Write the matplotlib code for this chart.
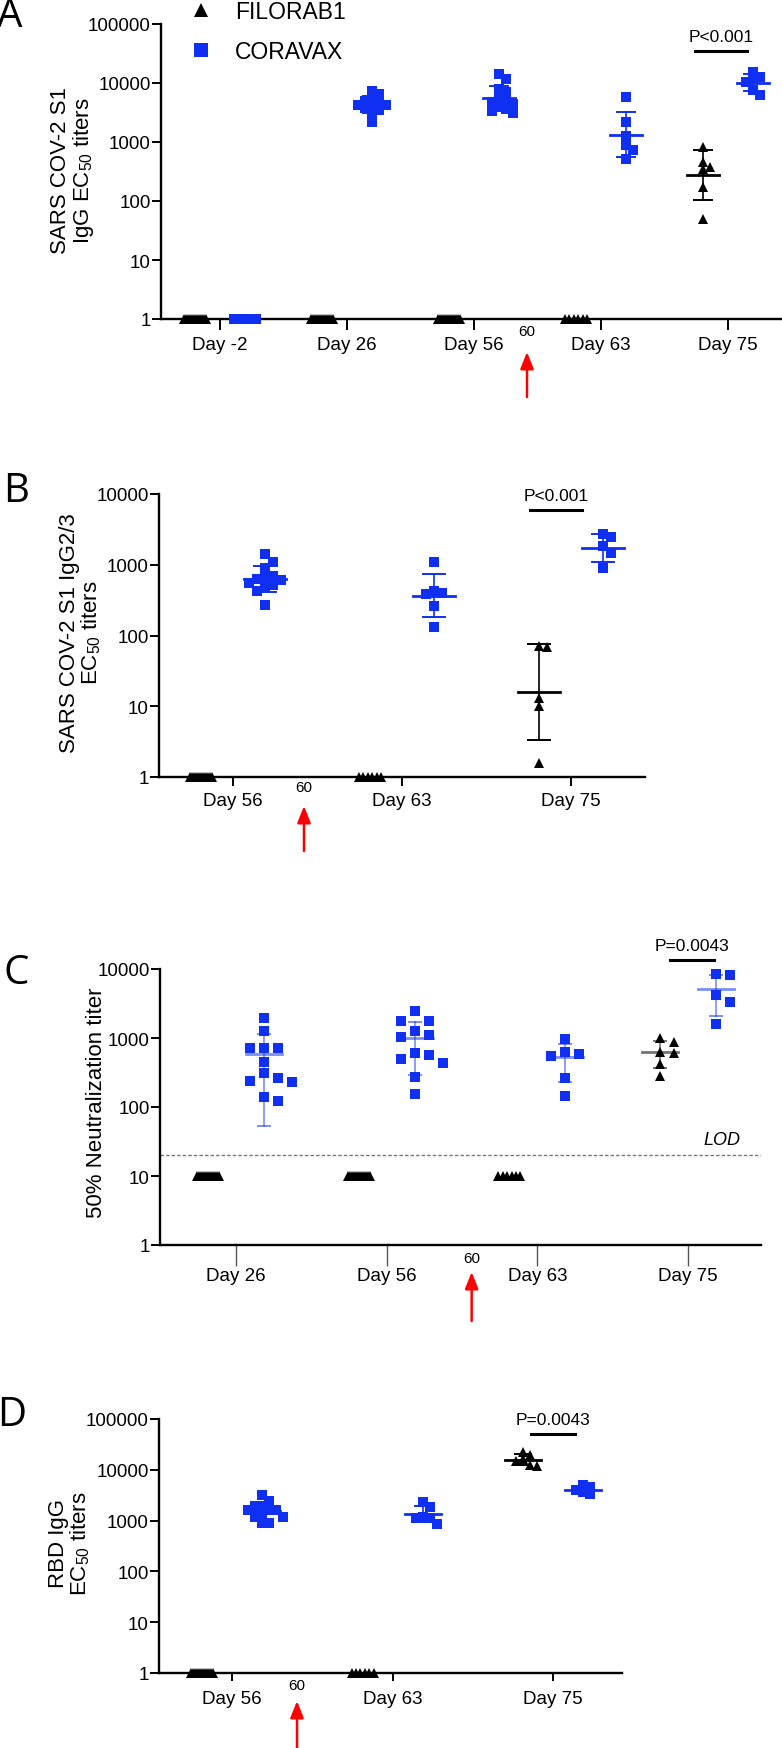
import numpy as np
import matplotlib
matplotlib.use("Agg")
import matplotlib.pyplot as plt
from matplotlib.ticker import NullLocator

# ---------------- data ----------------
a_days = ["Day -2", "Day 26", "Day 56", "Day 63", "Day 75"]
a_filo = [[1, 1, 1, 1, 1, 1, 1, 1, 1, 1, 1, 1],
          [1, 1, 1, 1, 1, 1, 1, 1, 1, 1, 1, 1],
          [1, 1, 1, 1, 1, 1, 1, 1, 1, 1, 1, 1],
          [1, 1, 1, 1, 1, 1],
          [830, 460, 370, 350, 170, 50]]
a_cora = [[1, 1, 1, 1, 1, 1, 1, 1, 1, 1, 1, 1],
          [7400, 6500, 5500, 5000, 4600, 4300, 4200, 4000, 3800, 3500, 3000, 2200],
          [14000, 11500, 8000, 7000, 5500, 5000, 4700, 4400, 4000, 3600, 3300, 3100],
          [5800, 2200, 1280, 900, 730, 510],
          [15500, 12500, 11500, 10500, 7500, 6300]]

b_days = ["Day 56", "Day 63", "Day 75"]
b_filo = [[1, 1, 1, 1, 1, 1, 1, 1, 1, 1, 1, 1],
          [1, 1, 1, 1, 1, 1],
          [72, 68, 13, 10, 1.6]]
b_cora = [[1400, 1100, 900, 700, 650, 620, 600, 560, 520, 480, 420, 270],
          [1100, 420, 400, 380, 260, 130],
          [2700, 2450, 1850, 1450, 890]]

c_days = ["Day 26", "Day 56", "Day 63", "Day 75"]
c_filo = [[10, 10, 10, 10, 10, 10, 10, 10, 10, 10, 10, 10],
          [10, 10, 10, 10, 10, 10, 10, 10, 10, 10, 10, 10],
          [10, 10, 10, 10, 10, 10],
          [1000, 870, 630, 600, 420, 280]]
c_cora = [[1930, 1280, 720, 716, 710, 454, 311, 263, 235, 228, 138, 121],
          [2440, 1740, 1740, 1280, 1100, 1050, 600, 560, 500, 430, 275, 155],
          [970, 634, 590, 543, 260, 145],
          [8500, 8200, 4200, 3300, 1600]]
c_lod = 20

d_days = ["Day 56", "Day 63", "Day 75"]
d_filo = [[1, 1, 1, 1, 1, 1, 1, 1, 1, 1, 1, 1],
          [1, 1, 1, 1, 1, 1],
          [22900, 19500, 16200, 15100, 12500, 12000]]
d_cora = [[3200, 2460, 1900, 1900, 1620, 1620, 1600, 1350, 1180, 1180, 890, 890],
          [2290, 1870, 1180, 1150, 1120, 860],
          [5000, 4570, 4060, 3630, 3300]]

# ---------------- style ----------------
W, H = 782, 1749
BLUE = "#0f2ff2"
SANS = ["Liberation Sans", "DejaVu Sans"]
plt.rcParams["font.family"] = SANS
plt.rcParams["mathtext.fontset"] = "custom"
plt.rcParams["mathtext.rm"] = "Liberation Sans"
plt.rcParams["mathtext.it"] = "Liberation Sans:italic"

fig = plt.figure(figsize=(W / 100, H / 100), dpi=100)


def px_axes(l, t, r, b):
    return fig.add_axes([l / W, 1 - b / H, (r - l) / W, (b - t) / H])


def ppu(ax):
    return ax.transData.transform((1, 1))[0] - ax.transData.transform((0, 1))[0]


def summary(vals, kind):
    v = np.asarray(vals, float)
    if kind == "geo":
        lv = np.log10(v)
        m, s = lv.mean(), lv.std(ddof=1)
        return 10 ** m, 10 ** (m - s), 10 ** (m + s)
    m, s = v.mean(), v.std(ddof=1)
    return m, m - s, m + s


def swarm(ax, x0, vals, step, mind):
    v = np.asarray(vals, float)
    n = len(v)
    if np.all(v == v[0]):
        return x0 + np.linspace(-11, 11, n) / ppu(ax)
    ys = ax.transData.transform(np.column_stack([np.full(n, x0), v]))[:, 1]
    offs = np.zeros(n)
    placed = []
    for i in np.argsort(-v):
        for k in [0, 1, -1, 2, -2, 3, -3, 4, -4, 5, -5]:
            dx = k * step
            if all(np.hypot(dx - px, ys[i] - py) >= mind for px, py in placed):
                break
        offs[i] = dx
        placed.append((dx, ys[i]))
    return x0 + offs / ppu(ax)


def setup(ax, days, ylim, xlim, xtick_len, xtick_color, xtick_w, xpad):
    ax.set_yscale("log")
    ax.set_ylim(ylim)
    ax.set_xlim(xlim)
    yt = [10 ** k for k in range(int(round(np.log10(ylim[1]))) + 1)]
    ax.set_yticks(yt)
    ax.set_yticklabels([str(t) for t in yt])
    ax.yaxis.set_minor_locator(NullLocator())
    ax.set_xticks(range(len(days)))
    ax.set_xticklabels(days)
    for s in ["top", "right"]:
        ax.spines[s].set_visible(False)
    for s in ["left", "bottom"]:
        ax.spines[s].set_linewidth(1.7)
    ax.tick_params(axis="y", length=6.5, width=1.4, labelsize=13.5, pad=1)
    ax.tick_params(axis="x", length=xtick_len, width=xtick_w, color=xtick_color,
                   labelsize=13.5, pad=xpad)
    ax.set_facecolor("none")


def draw_groups(ax, filo, cora, off, kind, step, mind, ms, mean_hw, cap_hw, bar_alpha):
    u = ppu(ax)
    for i in range(len(filo)):
        for vals, sgn, color, marker, size in [(filo[i], -1, "black", "^", ms + 0.5),
                                                (cora[i], 1, BLUE, "s", ms)]:
            xc = i + sgn * off / u
            xs = swarm(ax, xc, vals, step, mind)
            ax.plot(xs, vals, ls="none", marker=marker, color=color, ms=size,
                    mew=0, clip_on=False, zorder=3)
            if len(set(vals)) == 1:
                continue
            m, lo, hi = summary(vals, kind)
            lo = max(lo, ax.get_ylim()[0])
            ax.plot([xc - mean_hw / u, xc + mean_hw / u], [m, m], color=color,
                    lw=2.0, alpha=bar_alpha, zorder=4, clip_on=False)
            ax.plot([xc, xc], [lo, hi], color=color, lw=1.2, alpha=bar_alpha, zorder=4)
            for yv in (lo, hi):
                ax.plot([xc - cap_hw / u, xc + cap_hw / u], [yv, yv], color=color,
                        lw=1.4, alpha=bar_alpha, zorder=4)


def pvalue(ax, xi, center_px, half_px, yline, text):
    u = ppu(ax)
    xc = xi + center_px / u
    ax.plot([xc - half_px / u, xc + half_px / u], [yline, yline], color="black",
            lw=2.2, clip_on=False)
    ax.annotate(text, (xc, yline), xytext=(0, 5), textcoords="offset points",
                ha="center", va="bottom", fontsize=12.5, annotation_clip=False)


def day60_arrow(ax, xpos, text_dy, tip_dy, tail_dy):
    # offsets are pixels below the x axis line
    x, y0 = ax.transData.transform((xpos, ax.get_ylim()[0]))
    fig.text(x / W, (y0 - text_dy) / H, "60", ha="center", va="center", fontsize=11)
    fig.add_artist(matplotlib.patches.FancyArrowPatch(
        (x, y0 - tail_dy), (x, y0 - tip_dy), transform=None,
        arrowstyle="-|>,head_length=1.0,head_width=0.4", mutation_scale=10,
        color="#ff0000", lw=1.8, shrinkA=0, shrinkB=0))


def ylabel(x, y, text):
    fig.text(x / W, 1 - y / H, text, rotation=90, ha="center", va="center",
             fontsize=16, linespacing=1.0, multialignment="center")


def letter(x, y, s):
    fig.text(x / W, 1 - y / H, s, ha="left", va="center", fontsize=29,
             family=["Open Sans", "DejaVu Sans"])


# ---------------- panel A ----------------
axA = px_axes(161, 25, 782, 320)
setup(axA, a_days, (1, 1e5), (-0.465, 4.425), 8, "black", 1.4, 4)
draw_groups(axA, a_filo, a_cora, 25, "geo", 7, 7, 7, 16, 9, 1.0)
pvalue(axA, 4, -7, 26, 35000, "P<0.001")
day60_arrow(axA, 2.417, 12, 33, 78)
ylabel(73, 171, "SARS COV-2 S1\nIgG EC$_{50}$ titers")
letter(-3, 17, "A")
axA.plot([], [], ls="none", marker="^", color="black", ms=10, mew=0, label="FILORAB1")
axA.plot([], [], ls="none", marker="s", color=BLUE, ms=10, mew=0, label="CORAVAX")
fig.legend(*axA.get_legend_handles_labels(), loc="upper left",
           bbox_to_anchor=(178 / W, 1 + 8 / H), frameon=False, fontsize=16.5,
           handletextpad=0.9, labelspacing=0.75, borderaxespad=0, handlelength=1.2)

# ---------------- panel B ----------------
axB = px_axes(159, 495, 645, 778)
setup(axB, b_days, (1, 1e4), (-0.438, 2.438), 6.5, "black", 1.4, 4)
draw_groups(axB, b_filo, b_cora, 32, "geo", 8, 8, 7, 21, 11, 1.0)
pvalue(axB, 2, -15, 26, 5900, "P<0.001")
day60_arrow(axB, 0.42, 10, 29, 74)
ylabel(81, 633, "SARS COV-2 S1 IgG2/3\nEC$_{50}$ titers")
letter(3, 492, "B")

# ---------------- panel C ----------------
axC = px_axes(160, 970, 761, 1246)
setup(axC, c_days, (1, 1e4), (-0.504, 3.484), 15, "#555555", 1.0, 1)
draw_groups(axC, c_filo, c_cora, 28, "arith", 14, 11, 7, 18, 6, 0.55)
axC.axhline(c_lod, color="#777777", lw=1.0, ls=(0, (2.5, 1.5)), zorder=1)
axC.annotate("LOD", (3 + 34 / ppu(axC), c_lod), xytext=(0, 5), textcoords="offset points",
             ha="center", va="bottom", fontsize=13, style="italic")
pvalue(axC, 3, 4, 22, 13500, "P=0.0043")
day60_arrow(axC, 1.564, 13, 27, 76)
ylabel(96, 1103, "50% Neutralization titer")
letter(4, 974, "C")

# ---------------- panel D ----------------
axD = px_axes(159, 1420, 622, 1674)
setup(axD, d_days, (1, 1e5), (-0.455, 2.43), 6, "black", 1.4, 6)
draw_groups(axD, d_filo, d_cora, 30, "geo", 7, 7, 7, 18, 8, 1.0)
pvalue(axD, 2, 0, 22, 50500, "P=0.0043")
day60_arrow(axD, 0.405, 12, 28, 76)
ylabel(70, 1544, "RBD IgG\nEC$_{50}$ titers")
letter(-3, 1416, "D")

fig.savefig("out.png", dpi=100)
